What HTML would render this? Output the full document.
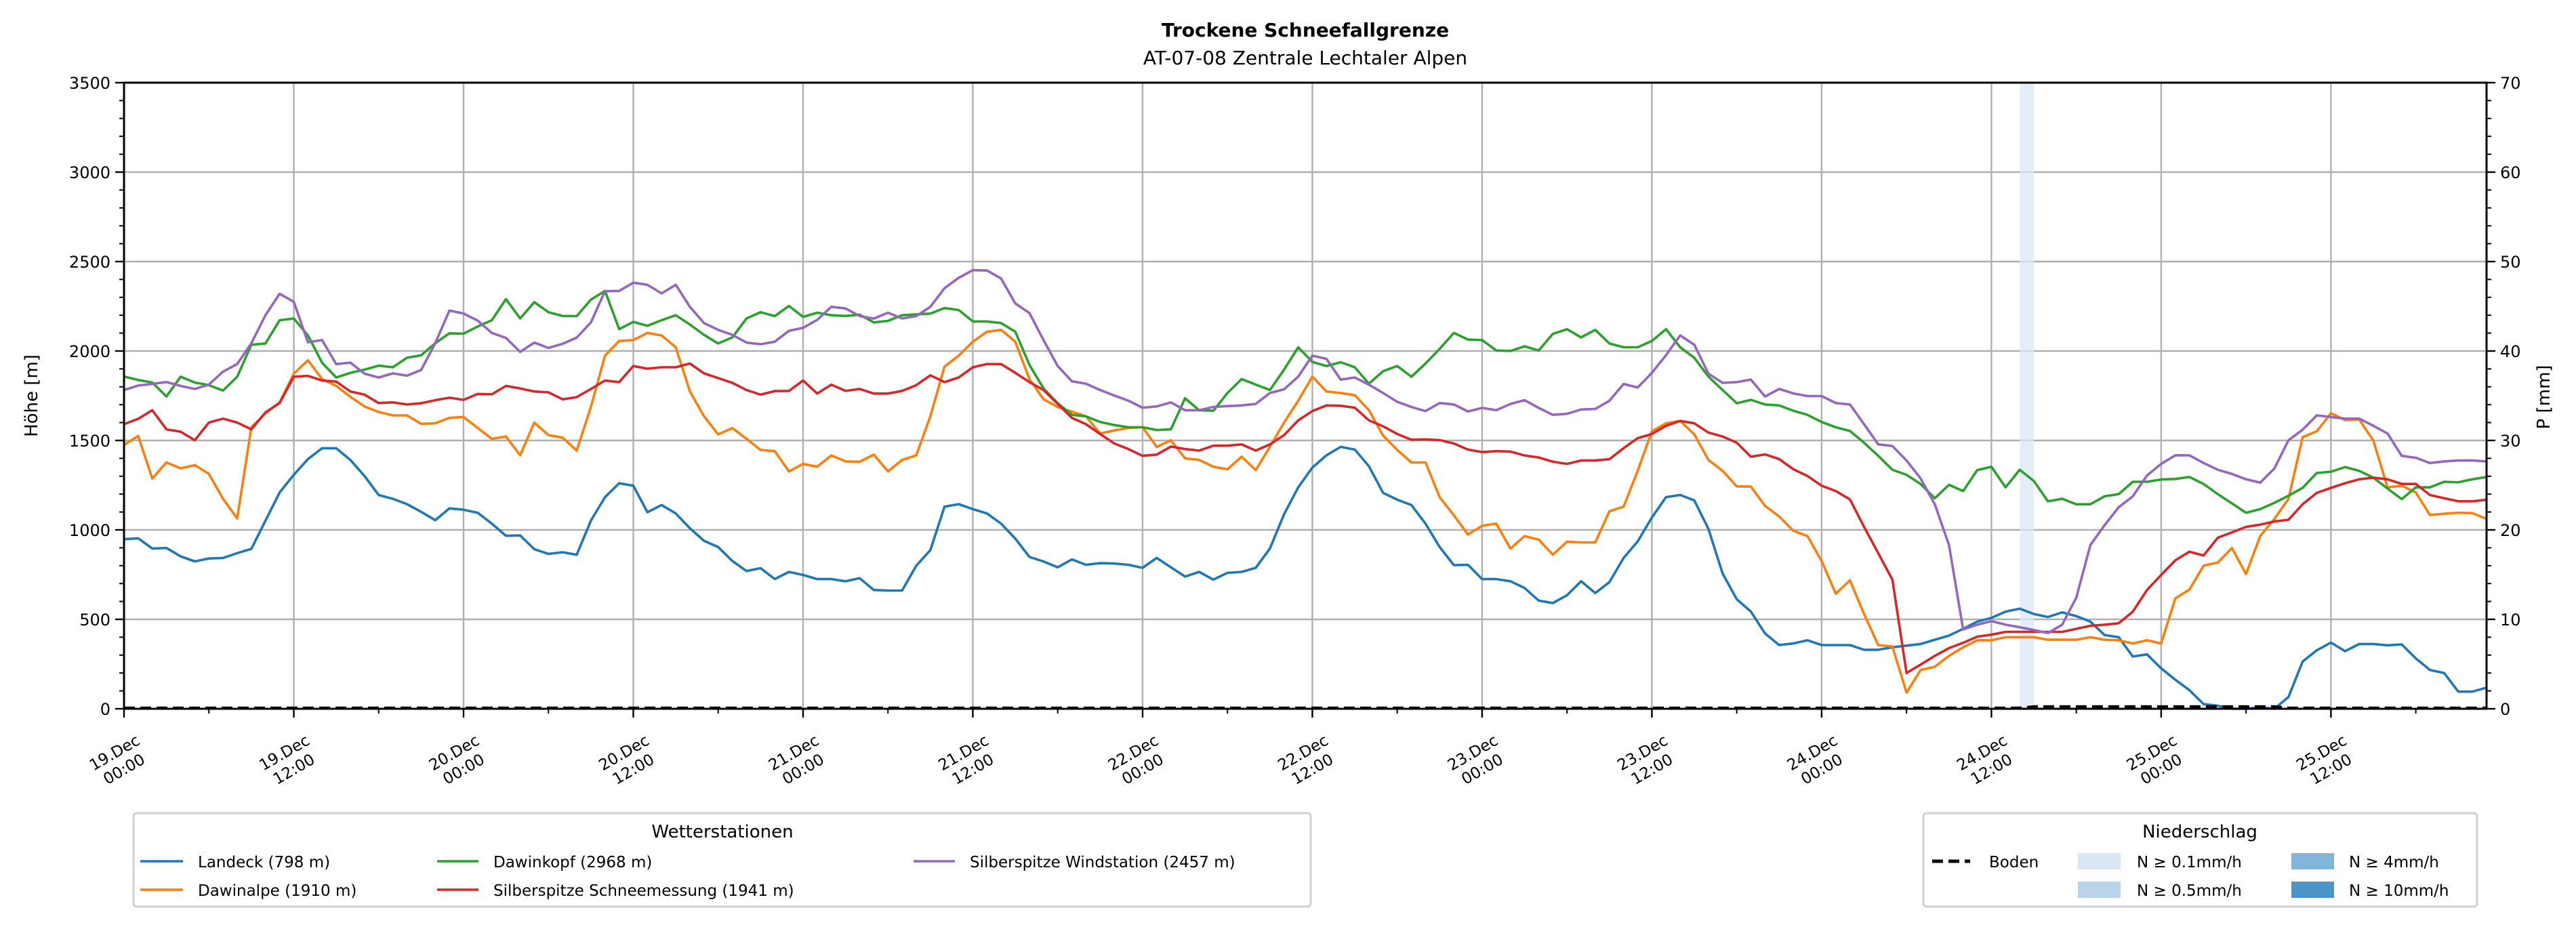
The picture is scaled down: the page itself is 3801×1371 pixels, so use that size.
<!DOCTYPE html>
<html><head><meta charset="utf-8"><style>
html,body{margin:0;padding:0;background:#fff;}
svg{display:block;font-family:"DejaVu Sans","Liberation Sans",sans-serif;}
</style></head><body>
<svg id="chart" width="3801" height="1371" viewBox="0 0 3801 1371" xmlns="http://www.w3.org/2000/svg">
<rect width="3801" height="1371" fill="#fff"/>
<text x="1926" y="54" text-anchor="middle" font-size="28" font-weight="bold">Trockene Schneefallgrenze</text>
<text x="1926" y="95" text-anchor="middle" font-size="28">AT-07-08 Zentrale Lechtaler Alpen</text>
<g id="grid"></g>
<g id="precip"></g>
<g id="series"></g>
<g id="axes"></g>
<text transform="translate(55,584) rotate(-90)" text-anchor="middle" font-size="26">Höhe [m]</text>
<text transform="translate(3762,586) rotate(-90)" text-anchor="middle" font-size="26">P [mm]</text>

<g>
<rect x="197" y="1200" width="1737" height="138" rx="5" fill="#fff" stroke="#d0d0d0" stroke-width="3"/>
<text x="1066" y="1236" text-anchor="middle" font-size="26">Wetterstationen</text>
<g><line x1="207" y1="1271" x2="270" y2="1271" stroke="#1f77b4" stroke-width="3.6"/><text x="292" y="1280" font-size="23">Landeck (798 m)</text></g>
<g><line x1="207" y1="1313" x2="270" y2="1313" stroke="#ff7f0e" stroke-width="3.6"/><text x="292" y="1322" font-size="23">Dawinalpe (1910 m)</text></g>
<g><line x1="645" y1="1271" x2="706" y2="1271" stroke="#2ca02c" stroke-width="3.6"/><text x="728" y="1280" font-size="23">Dawinkopf (2968 m)</text></g>
<g><line x1="645" y1="1313" x2="706" y2="1313" stroke="#d62728" stroke-width="3.6"/><text x="728" y="1322" font-size="23">Silberspitze Schneemessung (1941 m)</text></g>
<g><line x1="1348" y1="1271" x2="1409" y2="1271" stroke="#9467bd" stroke-width="3.6"/><text x="1431" y="1280" font-size="23">Silberspitze Windstation (2457 m)</text></g>
</g>

<g>
<rect x="2838" y="1200" width="817" height="138" rx="5" fill="#fff" stroke="#d0d0d0" stroke-width="3"/>
<text x="3246" y="1236" text-anchor="middle" font-size="26">Niederschlag</text>
<g><line x1="2851" y1="1271" x2="2907" y2="1271" stroke="#000" stroke-width="5" stroke-dasharray="16,8"/><text x="2935" y="1280" font-size="23">Boden</text></g>
<g><rect x="3066" y="1259" width="63" height="24" fill="#d9e7f4"/><text x="3153" y="1280" font-size="23">N ≥ 0.1mm/h</text></g>
<g><rect x="3066" y="1301" width="63" height="24" fill="#b9d4ea"/><text x="3153" y="1322" font-size="23">N ≥ 0.5mm/h</text></g>
<g><rect x="3381" y="1259" width="63" height="24" fill="#80b6db"/><text x="3466" y="1280" font-size="23">N ≥ 4mm/h</text></g>
<g><rect x="3381" y="1301" width="63" height="24" fill="#4a94c8"/><text x="3466" y="1322" font-size="23">N ≥ 10mm/h</text></g>
</g>
</svg>
<script>
const landeck = [948,953,896,899,852,824,840,843,870,894,1052,1209,1308,1396,1456,1456,1391,1301,1195,1174,1144,1101,1054,1120,1113,1096,1035,967,969,
892,866,875,861,1052,1183,1261,1247,1099,1139,1092,1009,939,904,826,770,786,725,765,748,725,725,713,730,664,661,661,800,
887,1130,1144,1116,1092,1035,951,849,823,791,835,805,814,812,805,788,843,791,739,765,722,760,765,788,896,1087,1238,1348,
1417,1464,1449,1356,1207,1169,1139,1035,904,803,805,725,725,713,675,605,591,635,713,647,708,843,936,1069,1183,1195,1165,1005,
756,612,543,421,356,365,383,356,356,356,330,330,344,353,362,386,409,447,487,508,543,560,530,513,539,518,487,412,
400,292,304,226,162,104,26,17,0,0,9,0,66,264,327,370,322,362,362,355,360,282,217,200,96,96,118];
const dawinalpe = [1475,1525,1287,1377,1344,1362,1313,1174,1064,1574,1652,1713,1873,1948,1843,1805,1744,1690,1659,1640,1640,1593,1596,1626,1631,1570,1509,1522,1417,
1600,1530,1516,1443,1687,1974,2056,2061,2101,2087,2021,1774,1635,1534,1569,1509,1447,1440,1327,1369,1353,1416,1383,1381,1421,1327,1391,1417,
1635,1913,1974,2052,2108,2118,2052,1843,1730,1687,1661,1635,1539,1556,1570,1574,1464,1501,1400,1391,1353,1339,1409,1334,1464,1600,1722,1857,
1774,1765,1753,1669,1527,1447,1377,1377,1183,1082,974,1023,1035,896,965,946,861,934,930,930,1104,1130,1330,1551,1596,1609,1534,1391,
1330,1243,1242,1134,1075,995,965,826,643,718,530,356,348,90,217,235,296,344,383,383,400,400,400,386,386,386,400,386,
383,365,383,365,617,666,800,817,899,753,965,1061,1174,1518,1551,1652,1614,1617,1499,1238,1247,1209,1083,1090,1096,1094,1061];
const dawinkopf = [1857,1838,1824,1746,1856,1824,1809,1779,1856,2035,2042,2172,2182,2087,1935,1852,1878,1896,1918,1909,1962,1976,2043,2099,2097,2137,2172,2290,2182,
2273,2217,2196,2195,2287,2336,2122,2163,2141,2172,2200,2148,2090,2042,2076,2182,2217,2195,2252,2191,2214,2200,2196,2203,2160,2168,2200,2205,
2209,2240,2229,2165,2165,2156,2108,1922,1791,1708,1643,1635,1603,1586,1574,1574,1558,1562,1736,1669,1666,1765,1843,1812,1782,1896,2021,1939,
1916,1937,1909,1817,1887,1916,1856,1930,2012,2101,2064,2061,2003,2000,2026,2003,2096,2122,2076,2118,2042,2021,2021,2056,2122,2021,1962,1857,
1782,1708,1727,1701,1696,1666,1643,1603,1574,1553,1487,1414,1336,1308,1256,1177,1252,1217,1334,1353,1238,1336,1273,1160,1174,1143,1143,1188,
1200,1269,1269,1282,1285,1296,1257,1200,1148,1096,1116,1151,1191,1235,1318,1325,1351,1330,1292,1231,1172,1238,1238,1269,1266,1283,1296];
const silberSchnee = [1591,1621,1669,1562,1549,1501,1600,1622,1600,1562,1657,1709,1856,1861,1835,1829,1774,1756,1709,1713,1701,1708,1725,1739,1727,1760,1758,1805,1791,
1774,1769,1730,1742,1788,1835,1826,1916,1901,1909,1909,1930,1875,1849,1822,1782,1756,1776,1777,1835,1762,1812,1777,1788,1762,1762,1777,1809,
1864,1826,1852,1909,1927,1927,1878,1826,1782,1704,1626,1591,1536,1483,1452,1414,1421,1466,1452,1443,1471,1471,1478,1443,1478,1530,1612,1664,
1696,1694,1683,1612,1579,1536,1504,1506,1502,1483,1449,1435,1440,1438,1416,1405,1381,1369,1388,1388,1395,1457,1513,1536,1582,1609,1596,1544,
1522,1487,1409,1422,1396,1339,1301,1247,1217,1170,1017,870,722,200,247,296,339,369,403,414,430,430,430,430,430,447,464,470,
478,543,664,748,830,878,857,956,986,1017,1029,1047,1057,1143,1207,1235,1261,1283,1292,1283,1257,1257,1195,1177,1160,1160,1169];
const silberWind = [1782,1807,1816,1826,1805,1788,1812,1885,1927,2043,2200,2320,2275,2049,2061,1927,1935,1873,1852,1875,1862,1894,2043,2226,2209,2170,2101,2073,1995,
2047,2017,2040,2075,2160,2334,2336,2382,2370,2322,2370,2247,2156,2118,2090,2047,2038,2052,2113,2130,2174,2247,2238,2195,2181,2214,2182,2195,
2247,2351,2409,2452,2450,2405,2266,2212,2061,1916,1831,1817,1782,1751,1722,1683,1690,1713,1669,1669,1687,1692,1696,1704,1765,1786,1857,1974,
1956,1840,1852,1812,1765,1716,1687,1664,1709,1701,1662,1682,1669,1704,1725,1682,1643,1649,1673,1676,1722,1816,1796,1878,1977,2087,2035,1873,
1822,1826,1840,1746,1788,1763,1748,1748,1709,1701,1591,1478,1469,1388,1287,1143,916,443,470,490,470,456,440,423,470,621,916,1026,
1127,1188,1304,1369,1417,1417,1374,1336,1313,1283,1264,1343,1501,1560,1640,1631,1622,1622,1582,1539,1414,1403,1374,1383,1388,1388,1383];
const precipHours = [134];
const precipLevels = ["0.1"];
const bodenHours = [0,134,135,152,153,167];
const bodenValues = [0,0,0.15,0.15,0,0];
const yTicks = [0,500,1000,1500,2000,2500,3000,3500];
const pTicks = [0,10,20,30,40,50,60,70];
const xTickHours = [0,12,24,36,48,60,72,84,96,108,120,132,144,156];
const xTickLabels = [["19.Dec","00:00"],["19.Dec","12:00"],["20.Dec","00:00"],["20.Dec","12:00"],["21.Dec","00:00"],["21.Dec","12:00"],["22.Dec","00:00"],["22.Dec","12:00"],["23.Dec","00:00"],["23.Dec","12:00"],["24.Dec","00:00"],["24.Dec","12:00"],["25.Dec","00:00"],["25.Dec","12:00"]];

const NS="http://www.w3.org/2000/svg";
const X0=183,X1=3669,Y0=1046,Y1=122,HMAX=167;
const xs=h=>X0+h*(X1-X0)/HMAX;
const ys=v=>Y0-v*(Y0-Y1)/3500;
const yp=p=>Y0-p*(Y0-Y1)/70;
function mk(tag,attrs,parent){const e=document.createElementNS(NS,tag);for(const k in attrs)e.setAttribute(k,attrs[k]);parent.appendChild(e);return e;}
const grid=document.getElementById('grid'),axes=document.getElementById('axes'),ser=document.getElementById('series'),pr=document.getElementById('precip');

yTicks.forEach(v=>{
  const l=mk('line',{x1:X0,x2:X1,y1:ys(v),y2:ys(v),stroke:'#b0b0b0','stroke-width':2.4},grid);
  
  
  const t=mk('text',{x:X0-20,y:ys(v)+9,'text-anchor':'end','font-size':24},axes);
  t.textContent=v;
  
  
  mk('line',{x1:X0-13,x2:X0,y1:ys(v),y2:ys(v),stroke:'#000','stroke-width':2.4},axes);
});
for(let v=100;v<3500;v+=100){ if(v%500) mk('line',{x1:X0-7,x2:X0,y1:ys(v),y2:ys(v),stroke:'#000','stroke-width':2},axes); }
pTicks.forEach(p=>{
  mk('line',{x1:X1,x2:X1+13,y1:yp(p),y2:yp(p),stroke:'#000','stroke-width':2.4},axes);
  const t=mk('text',{x:X1+20,y:yp(p)+9,'font-size':24},axes);
  t.textContent=p;
  
  
});
for(let p=2;p<70;p+=2){ if(p%10) mk('line',{x1:X1,x2:X1+7,y1:yp(p),y2:yp(p),stroke:'#000','stroke-width':2},axes); }
xTickHours.forEach((h,i)=>{
  const g=mk('line',{x1:xs(h),x2:xs(h),y1:Y1,y2:Y0,stroke:'#b0b0b0','stroke-width':2.4},grid);
  
  
  mk('line',{x1:xs(h),x2:xs(h),y1:Y0,y2:Y0+13,stroke:'#000','stroke-width':2.4},axes);
  const t=mk('text',{transform:`translate(${xs(h)-4},${Y0+82}) rotate(-30)`,'text-anchor':'middle','font-size':23},axes);
  
  
  const a=mk('tspan',{x:0,y:-12},t); a.textContent=xTickLabels[i][0];
  const b=mk('tspan',{x:0,y:16},t); b.textContent=xTickLabels[i][1];
});
for(let h=6;h<HMAX;h+=12) mk('line',{x1:xs(h),x2:xs(h),y1:Y0,y2:Y0+7,stroke:'#000','stroke-width':2},axes);

const pColors={"0.1":"#dce8f5","0.5":"#b9d4ea","4":"#80b6db","10":"#4a94c8"};
precipHours.forEach((h,i)=>{
  const r=mk('rect',{x:xs(h),y:Y1,width:xs(h+1)-xs(h),height:Y0-Y1,fill:pColors[precipLevels[i]],opacity:0.75},pr);
  
  
});

const seriesList=[[landeck,'#1f77b4','line-landeck'],[dawinalpe,'#ff7f0e','line-dawinalpe'],[dawinkopf,'#2ca02c','line-dawinkopf'],[silberSchnee,'#d62728','line-silberspitze-schnee'],[silberWind,'#9467bd','line-silberspitze-wind']];
seriesList.forEach(s=>{
  const d=s[0].map((v,h)=>(h?'L':'M')+xs(h).toFixed(1)+','+ys(v).toFixed(1)).join('');
  const p=mk('path',{d:d,fill:'none',stroke:s[1],'stroke-width':3.6,'stroke-linejoin':'round'},ser);
  
  
});
const bd=bodenHours.map((h,i)=>(i?'L':'M')+xs(h).toFixed(1)+','+(yp(bodenValues[i])-1).toFixed(1)).join('');
const bl=mk('path',{d:bd,fill:'none',stroke:'#000','stroke-width':4.5,'stroke-dasharray':'16,8'},ser);



const fr=mk('rect',{x:X0,y:Y1,width:X1-X0,height:Y0-Y1,fill:'none',stroke:'#000','stroke-width':3},axes);


</script>
</body></html>
